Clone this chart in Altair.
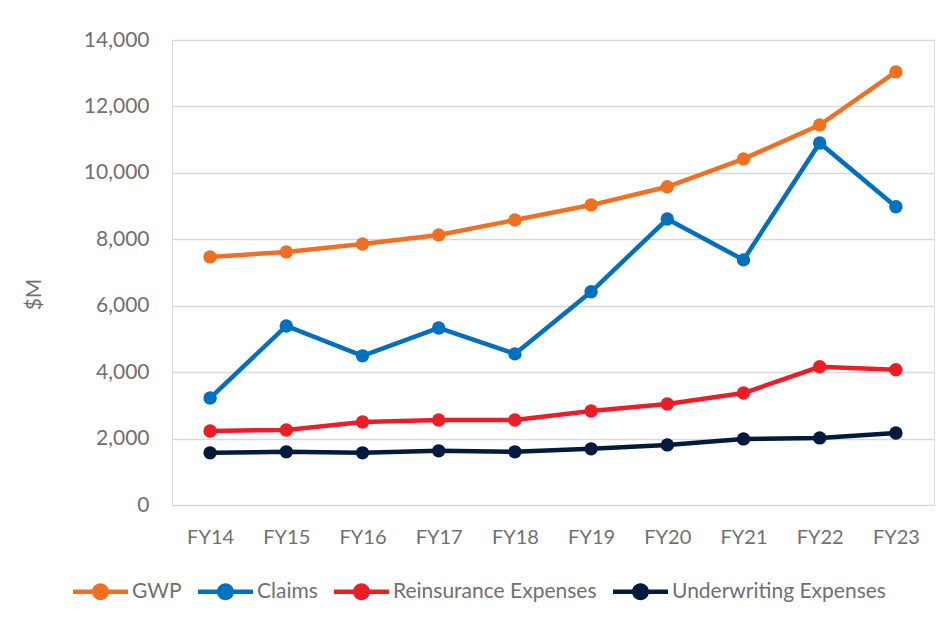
import altair as alt
import pandas as pd

years = ["FY14", "FY15", "FY16", "FY17", "FY18", "FY19", "FY20", "FY21", "FY22", "FY23"]
gwp = [7470, 7620, 7860, 8130, 8580, 9030, 9580, 10420, 11440, 13040]
claims = [3220, 5390, 4490, 5330, 4550, 6420, 8610, 7380, 10900, 8980]
reinsurance = [2230, 2260, 2500, 2560, 2560, 2830, 3040, 3370, 4160, 4070]
underwriting = [1570, 1600, 1570, 1630, 1600, 1690, 1810, 1990, 2020, 2170]

series_names = ["GWP", "Claims", "Reinsurance Expenses", "Underwriting Expenses"]
series_colors = ["#F07022", "#0070C0", "#EE1C25", "#021A3E"]
y_ticks = [0, 2000, 4000, 6000, 8000, 10000, 12000, 14000]

rows = []
for name, vals in zip(series_names, [gwp, claims, reinsurance, underwriting]):
    for i, (yr, v) in enumerate(zip(years, vals)):
        rows.append({"Year": yr, "Value": v, "Series": name, "order": series_names.index(name)})
df = pd.DataFrame(rows)

FONT = "Lato"
GRAY = "#707070"

sym_path = ("M-1,-0.085L1,-0.085L1,0.085L-1,0.085Z "
            "M0.31,0A0.31,0.31,0,1,1,-0.31,0A0.31,0.31,0,1,1,0.31,0Z")

x_enc = alt.X("Year:O", sort=years, scale=alt.Scale(padding=0.5),
              axis=alt.Axis(title=None, labelAngle=0, labelFontSize=20, labelColor=GRAY,
                            labelFont=FONT, labelPadding=22, ticks=False, domain=False, grid=False))
y_enc = alt.Y("Value:Q", scale=alt.Scale(domain=[0, 14000], nice=False),
              axis=alt.Axis(title="$M", values=y_ticks, format=",.0f", labelFontSize=21,
                            labelColor=GRAY, labelFont=FONT, labelPadding=23, ticks=False,
                            domain=False, grid=True, gridColor="#D9D9D9", gridWidth=1.5,
                            titleFontSize=21, titleFont=FONT, titleColor=GRAY,
                            titleFontWeight="normal", titleX=-128, titleY=254))

legend = alt.Legend(title=None, orient="none", direction="horizontal",
                    legendX=-99, legendY=524, symbolType=sym_path,
                    symbolSize=3025, symbolStrokeWidth=0, symbolOpacity=1,
                    labelFontSize=21, labelColor=GRAY, labelFont=FONT, labelLimit=400,
                    labelOffset=4, columnPadding=16, columns=4)
color_scale = alt.Scale(domain=series_names, range=series_colors)

lines = alt.Chart(df).mark_line(strokeWidth=4.5).encode(
    x=x_enc, y=y_enc,
    color=alt.Color("Series:N", scale=color_scale, legend=legend),
    order="order:Q",
)
points = alt.Chart(df).mark_point(filled=True, size=180, opacity=1).encode(
    x=x_enc, y=y_enc,
    color=alt.Color("Series:N", scale=color_scale, legend=legend),
)

chart = alt.layer(lines, points).properties(
    width=762, height=465,
    autosize=alt.AutoSizeParams(type="none"),
    padding={"left": 164, "top": 32, "right": 7, "bottom": 110},
).configure_view(stroke=None).configure(background="white")

chart.save("out.html", embed_options={"renderer": "svg", "actions": False})
